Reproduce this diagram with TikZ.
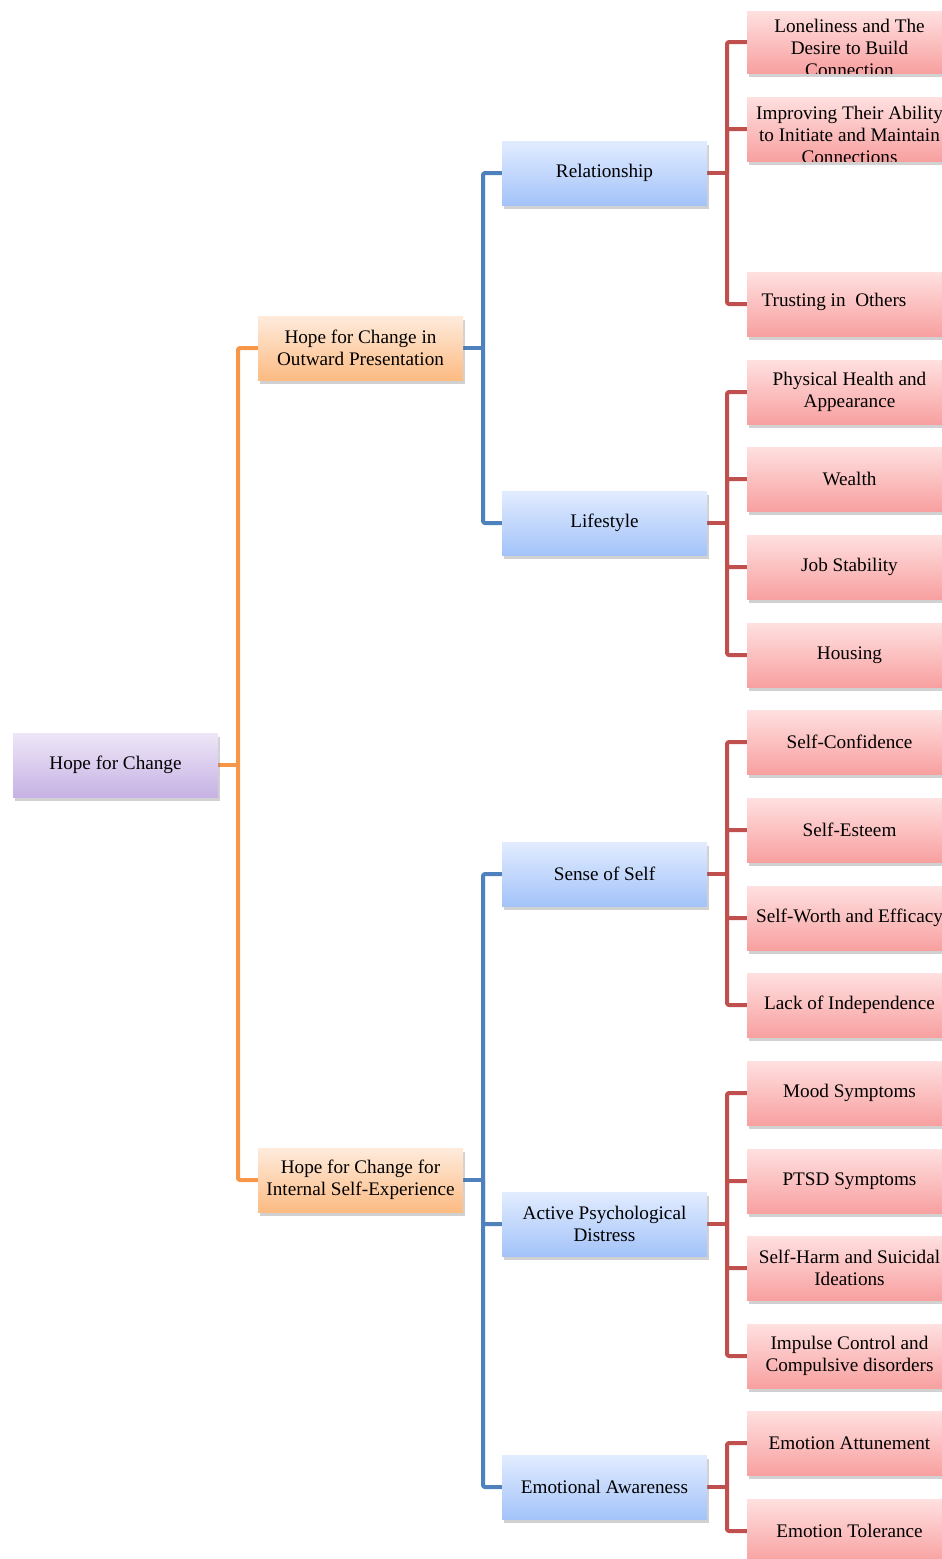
\documentclass[tikz,border=0pt]{standalone}
\usepackage{fontspec}
\setmainfont{Liberation Serif}
\usetikzlibrary{shadows}
\definecolor{purT}{HTML}{EEE6F7}\definecolor{purB}{HTML}{C6B2E4}
\definecolor{orT}{HTML}{FEEBDC}\definecolor{orB}{HTML}{FCBB83}
\definecolor{blT}{HTML}{E2ECFF}\definecolor{blB}{HTML}{A3C3F9}
\definecolor{rdT}{HTML}{FFE0E0}\definecolor{rdB}{HTML}{F8A0A0}
\definecolor{orL}{HTML}{F79646}\definecolor{blL}{HTML}{4F81BD}\definecolor{rdL}{HTML}{C0504D}
\tikzset{
  x=1pt,y=-1pt,
  box/.style={minimum width=205pt,minimum height=64pt,inner sep=0pt,align=center,
    font=\fontsize{19.2}{22}\selectfont,
    drop shadow={shadow xshift=2pt,shadow yshift=-4pt,opacity=0.3,fill=black!60}},
  rootbox/.style={box,top color=purT,bottom color=purB},
  obox/.style={box,top color=orT,bottom color=orB},
  bbox/.style={box,top color=blT,bottom color=blB},
  rbox/.style={box,top color=rdT,bottom color=rdB},
  conn/.style={line width=4pt,rounded corners=2pt,line join=round},
  oconn/.style={conn,orL},bconn/.style={conn,blL},rconn/.style={conn,rdL},
  txt/.style={align=center,inner sep=0pt,font=\fontsize{19.2}{22}\selectfont}
}
\begin{document}
\begin{tikzpicture}
\useasboundingbox (0,0) rectangle (942,1559);
% junctions
\coordinate (jr) at (238,765);
\coordinate (ja) at (483,348);
\coordinate (jb) at (483,1180);
\coordinate (j1) at (727,173);
\coordinate (j2) at (727,523);
\coordinate (j3) at (727,874);
\coordinate (j4) at (727,1224);
\coordinate (j5) at (727,1487);
% connectors (drawn first)
\draw[oconn] (218,765) -- (jr);
\draw[oconn] (jr) |- (258,348);
\draw[oconn] (jr) |- (258,1180);
\draw[bconn] (463,348) -- (ja);
\draw[bconn] (ja) |- (502,173);
\draw[bconn] (ja) |- (502,523);
\draw[bconn] (463,1180) -- (jb);
\draw[bconn] (jb) |- (502,874);
\draw[bconn] (jb) |- (502,1224);
\draw[bconn] (jb) |- (502,1487);
\foreach \j/\py/\list in {j1/173/{42,129,304},j2/523/{392,479,567,655},j3/874/{742,830,918,1005},j4/1224/{1093,1181,1268,1356},j5/1487/{1443,1531}}{
  \draw[rconn] (707,\py) -- (\j);
  \foreach \cy in \list { \draw[rconn] (\j) |- (747,\cy); }
}
% boxes
\node[rootbox] (root) at (115.5,765) {Hope for Change};
\node[obox] (outward) at (360.5,348) {Hope for Change in\\Outward Presentation};
\node[obox] (internal) at (360.5,1180) {Hope for Change for\\Internal Self-Experience};
\node[bbox] (rel) at (604.5,173) {Relationship};
\node[bbox] (life) at (604.5,523) {Lifestyle};
\node[bbox] (self) at (604.5,874) {Sense of Self};
\node[bbox] (apd) at (604.5,1224) {Active Psychological\\Distress};
\node[bbox] (emo) at (604.5,1487) {Emotional Awareness};
% red boxes with overflowing text
\node[rbox,minimum height=62pt] (lone) at (849.5,42) {};
\begin{scope}
\clip (lone.south west) rectangle (lone.north east);
\node[txt] (lonet) at (849.5,48) {Loneliness and The\\Desire to Build\\Connection};
\end{scope}
\node[rbox] (impr) at (849.5,129) {};
\begin{scope}
\clip (impr.south west) rectangle (impr.north east);
\node[txt] (imprt) at (849.5,135) {Improving Their Ability\\to Initiate and Maintain\\Connections};
\end{scope}
\node[rbox] (trust) at (849.5,304) {};
\node[txt] (trustt) at (834,302) {Trusting in\ \ Others};
\node[rbox] (phys) at (849.5,392) {Physical Health and\\Appearance};
\node[rbox] (wealth) at (849.5,479) {Wealth};
\node[rbox] (job) at (849.5,567) {Job Stability};
\node[rbox] (house) at (849.5,655) {Housing};
\node[rbox] (conf) at (849.5,742) {Self-Confidence};
\node[rbox] (est) at (849.5,830) {Self-Esteem};
\node[rbox] (worth) at (849.5,918) {Self-Worth and Efficacy};
\node[rbox] (indep) at (849.5,1005) {Lack of Independence};
\node[rbox] (mood) at (849.5,1093) {Mood Symptoms};
\node[rbox] (ptsd) at (849.5,1181) {PTSD Symptoms};
\node[rbox] (harm) at (849.5,1268) {Self-Harm and Suicidal\\Ideations};
\node[rbox] (imp) at (849.5,1356) {Impulse Control and\\Compulsive disorders};
\node[rbox] (att) at (849.5,1443) {Emotion Attunement};
\node[rbox] (tol) at (849.5,1531) {Emotion Tolerance};
\end{tikzpicture}
\end{document}
